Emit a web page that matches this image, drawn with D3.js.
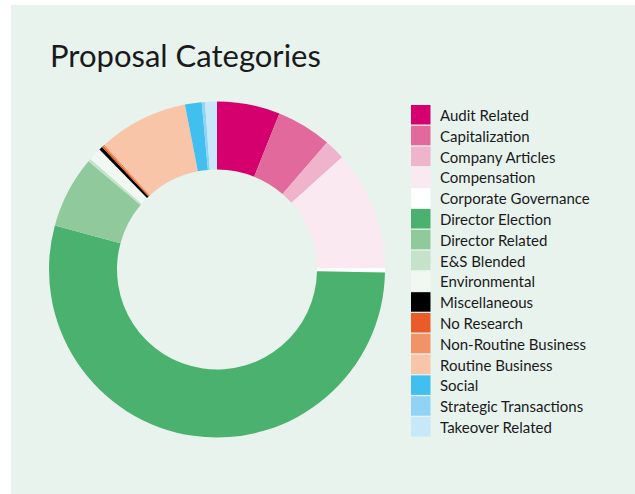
<!DOCTYPE html>
<html>
<head>
<meta charset="utf-8">
<script src="https://cdn.jsdelivr.net/npm/d3@7"></script>
<style>
  body { margin: 0; background: #ffffff; }
  svg { display: block; }
</style>
</head>
<body>
<script>
var categories = ["Audit Related", "Capitalization", "Company Articles", "Compensation",
  "Corporate Governance", "Director Election", "Director Related", "E&S Blended",
  "Environmental", "Miscellaneous", "No Research", "Non-Routine Business",
  "Routine Business", "Social", "Strategic Transactions", "Takeover Related"];

// share of proposals (percent)
var shares = [6.06, 5.31, 2.0, 11.5, 0.42, 53.97, 6.92, 0.28,
  1.25, 0.33, 0.17, 0.17, 8.61, 1.61, 0.31, 1.14];

var colors = ["#d5006e", "#e2699b", "#efb3cb", "#fbe9f1", "#ffffff", "#4ab26e",
  "#90c99c", "#c5e3ca", "#f1f8f2", "#000000", "#eb5a29", "#f19366",
  "#f9c5a8", "#41bfee", "#90d3f4", "#c6e8f9"];

var width = 635;
var height = 494;

var svg = d3.select("body").append("svg")
    .attr("width", width)
    .attr("height", height);

svg.append("rect")
    .attr("x", 11)
    .attr("y", 5)
    .attr("width", width - 11)
    .attr("height", height - 5)
    .attr("fill", "#e8f3ee");

svg.append("text")
    .attr("x", 50)
    .attr("y", 67)
    .attr("font-family", "Lato")
    .attr("font-size", 31)
    .attr("fill", "#1a1a1a")
    .text("Proposal Categories");

var color = d3.scaleOrdinal().domain(categories).range(colors);

var pie = d3.pie().sort(null).value(function(d, i) { return shares[i]; });
var arc = d3.arc().innerRadius(100).outerRadius(168);

var g = svg.append("g")
    .attr("transform", "translate(217,269.5)");

g.selectAll("path")
    .data(pie(categories))
  .enter().append("path")
    .attr("d", arc)
    .attr("fill", function(d) { return color(d.data); });

var legend = svg.append("g")
    .attr("transform", "translate(411,105)");

var row = legend.selectAll("g")
    .data(categories)
  .enter().append("g")
    .attr("transform", function(d, i) { return "translate(0," + (i * 20.8) + ")"; });

row.append("rect")
    .attr("width", 19.5)
    .attr("height", 19.5)
    .attr("fill", function(d) { return color(d); });

row.append("text")
    .attr("x", 29)
    .attr("y", 16)
    .attr("font-family", "Lato")
    .attr("font-size", 15)
    .attr("fill", "#1a1a1a")
    .text(function(d) { return d; });
</script>
</body>
</html>
